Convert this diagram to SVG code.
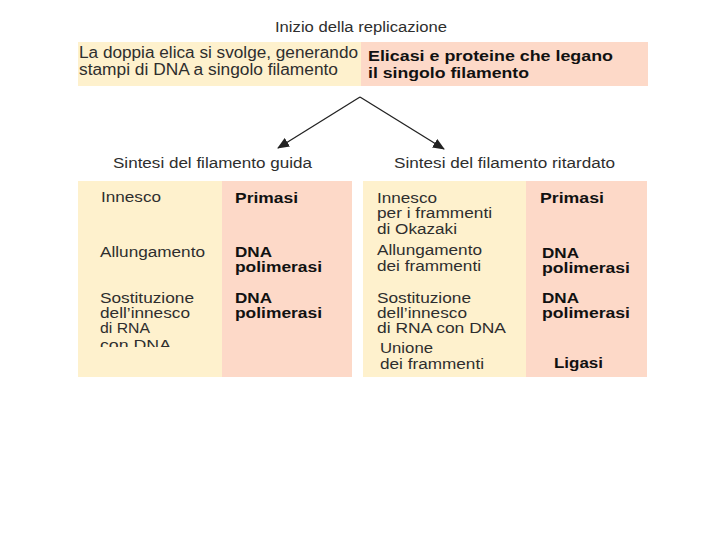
<svg xmlns="http://www.w3.org/2000/svg" width="720" height="540" viewBox="0 0 720 540">
<style>
  .t { font-family: "Liberation Sans", Arial, sans-serif; font-size: 14px; fill: #2e2e2e; }
  .b { font-family: "Liberation Sans", Arial, sans-serif; font-size: 14px; font-weight: bold; fill: #111; }
  .h { font-family: "Liberation Sans", Arial, sans-serif; font-size: 15.5px; fill: #2e2e2e; }
  .y { fill: #FEF1CD; }
  .p { fill: #FDD9C8; }
  .arr { stroke: #222; stroke-width: 1.3; fill: none; }
</style>
<defs>
  <marker id="ah" viewBox="0 0 12 10" refX="11" refY="5" markerWidth="12" markerHeight="10" orient="auto" markerUnits="userSpaceOnUse">
    <path d="M0,0 L12,5 L0,10 z" fill="#222"/>
  </marker>
  <clipPath id="clipL"><rect x="78" y="181" width="150" height="166"/></clipPath>
</defs>
<rect width="720" height="540" fill="#fff"/>

<text class="h" x="361" y="32" text-anchor="middle" textLength="172" lengthAdjust="spacingAndGlyphs">Inizio della replicazione</text>

<g id="top">
  <rect class="y" x="78" y="42" width="284" height="44"/>
  <rect class="p" x="361" y="42" width="287" height="44"/>
  <text class="h" x="79" y="58" style="font-size:16px" textLength="279" lengthAdjust="spacingAndGlyphs">La doppia elica si svolge, generando</text>
  <text class="h" x="79" y="75" style="font-size:16px" textLength="259" lengthAdjust="spacingAndGlyphs">stampi di DNA a singolo filamento</text>
  <text class="b" x="368" y="61" style="font-size:15.5px" textLength="245" lengthAdjust="spacingAndGlyphs">Elicasi e proteine che legano</text>
  <text class="b" x="368" y="78" style="font-size:15.5px" textLength="161" lengthAdjust="spacingAndGlyphs">il singolo filamento</text>
</g>

<g id="connectors">
  <line class="arr" x1="360" y1="97" x2="278" y2="148" marker-end="url(#ah)"/>
  <line class="arr" x1="360" y1="97" x2="444" y2="149" marker-end="url(#ah)"/>
</g>

<g id="leading">
  <text class="h" x="113" y="168" textLength="199" lengthAdjust="spacingAndGlyphs">Sintesi del filamento guida</text>
  <rect class="y" x="78" y="181" width="145" height="196"/>
  <rect class="p" x="222" y="181" width="130" height="196"/>
  <text class="t" x="101" y="202" textLength="60" lengthAdjust="spacingAndGlyphs">Innesco</text>
  <text class="b" x="235" y="203" textLength="63" lengthAdjust="spacingAndGlyphs">Primasi</text>
  <text class="t" x="100" y="257" textLength="105" lengthAdjust="spacingAndGlyphs">Allungamento</text>
  <text class="b" x="235" y="257" textLength="37" lengthAdjust="spacingAndGlyphs">DNA</text>
  <text class="b" x="235" y="272" textLength="87" lengthAdjust="spacingAndGlyphs">polimerasi</text>
  <text class="t" x="100" y="303" textLength="94" lengthAdjust="spacingAndGlyphs">Sostituzione</text>
  <text class="t" x="100" y="318" textLength="90" lengthAdjust="spacingAndGlyphs">dell’innesco</text>
  <text class="t" x="100" y="333" textLength="50" lengthAdjust="spacingAndGlyphs">di RNA</text>
  <text class="t" x="100" y="350" clip-path="url(#clipL)" textLength="71" lengthAdjust="spacingAndGlyphs">con DNA</text>
  <text class="b" x="235" y="303" textLength="37" lengthAdjust="spacingAndGlyphs">DNA</text>
  <text class="b" x="235" y="318" textLength="87" lengthAdjust="spacingAndGlyphs">polimerasi</text>
</g>

<g id="lagging">
  <text class="h" x="394" y="168" textLength="221" lengthAdjust="spacingAndGlyphs">Sintesi del filamento ritardato</text>
  <rect class="y" x="363" y="181" width="164" height="196"/>
  <rect class="p" x="526" y="181" width="121" height="196"/>
  <text class="t" x="377" y="203" textLength="60" lengthAdjust="spacingAndGlyphs">Innesco</text>
  <text class="t" x="377" y="218" textLength="115" lengthAdjust="spacingAndGlyphs">per i frammenti</text>
  <text class="t" x="377" y="234" textLength="80" lengthAdjust="spacingAndGlyphs">di Okazaki</text>
  <text class="b" x="540" y="203" textLength="64" lengthAdjust="spacingAndGlyphs">Primasi</text>
  <text class="t" x="377" y="255" textLength="105" lengthAdjust="spacingAndGlyphs">Allungamento</text>
  <text class="t" x="377" y="271" textLength="104" lengthAdjust="spacingAndGlyphs">dei frammenti</text>
  <text class="b" x="542" y="258" textLength="37" lengthAdjust="spacingAndGlyphs">DNA</text>
  <text class="b" x="542" y="273" textLength="88" lengthAdjust="spacingAndGlyphs">polimerasi</text>
  <text class="t" x="377" y="303" textLength="94" lengthAdjust="spacingAndGlyphs">Sostituzione</text>
  <text class="t" x="377" y="318" textLength="90" lengthAdjust="spacingAndGlyphs">dell’innesco</text>
  <text class="t" x="377" y="333" textLength="129" lengthAdjust="spacingAndGlyphs">di RNA con DNA</text>
  <text class="b" x="542" y="303" textLength="37" lengthAdjust="spacingAndGlyphs">DNA</text>
  <text class="b" x="542" y="318" textLength="88" lengthAdjust="spacingAndGlyphs">polimerasi</text>
  <text class="t" x="380" y="353" textLength="53" lengthAdjust="spacingAndGlyphs">Unione</text>
  <text class="t" x="380" y="369" textLength="104" lengthAdjust="spacingAndGlyphs">dei frammenti</text>
  <text class="b" x="554" y="368" textLength="49" lengthAdjust="spacingAndGlyphs">Ligasi</text>
</g>
</svg>
